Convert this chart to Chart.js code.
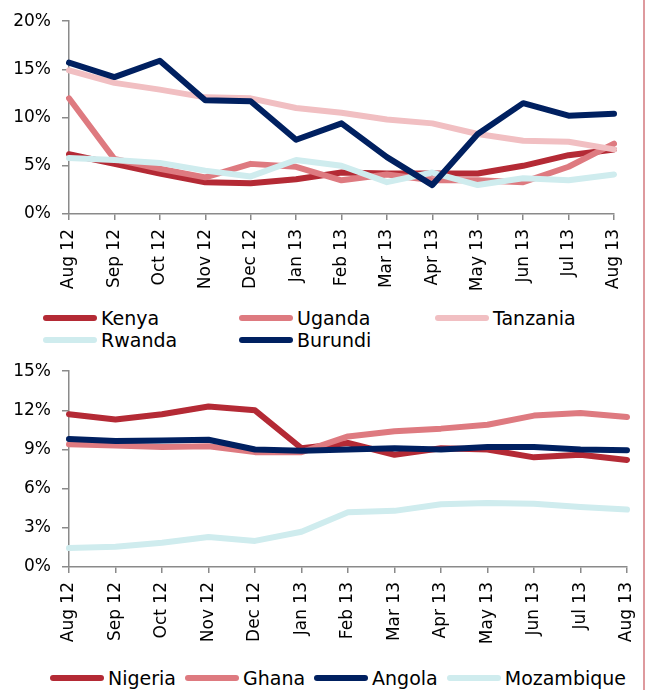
<!DOCTYPE html>
<html>
<head>
<meta charset="utf-8">
<script src="https://cdn.jsdelivr.net/npm/chart.js@4.4.0/dist/chart.umd.min.js"></script>
<style>
  body { margin: 0; width: 647px; height: 690px; background: #fff; position: relative; overflow: hidden; font-family: "DejaVu Sans", sans-serif; }
  canvas { position: absolute; left: 0; }
  #topChart { top: 0; }
  #bottomChart { top: 350px; }
  .legend { position: absolute; font-size: 19px; color: #000; }
  .legend .item { display: flex; align-items: center; height: 22px; white-space: nowrap; }
  .legend .swatch { width: 54px; height: 6px; border-radius: 3px; margin-right: 4px; }
  #topLegend { left: 43px; top: 307px; display: grid; grid-template-columns: 196px 196px 196px; }
  #bottomLegend { left: 50px; top: 667px; display: flex; gap: 9px; }
  #rule { position: absolute; left: 643px; top: 0; width: 2px; height: 690px; background: #de9a9e; }
</style>
</head>
<body>
<canvas id="topChart" width="640" height="300"></canvas>
<div id="topLegend" class="legend"></div>
<canvas id="bottomChart" width="640" height="300"></canvas>
<div id="bottomLegend" class="legend"></div>
<div id="rule"></div>

<script>
// Categories
const months = ['Aug 12', 'Sep 12', 'Oct 12', 'Nov 12', 'Dec 12', 'Jan 13', 'Feb 13',
                'Mar 13', 'Apr 13', 'May 13', 'Jun 13', 'Jul 13', 'Aug 13'];

// East Africa (%)
const kenya    = [6.2, 5.2, 4.2, 3.3, 3.2, 3.6, 4.3, 4.2, 4.2, 4.2, 5.0, 6.1, 6.7];
const uganda   = [12.0, 5.7, 4.7, 3.8, 5.2, 4.9, 3.5, 4.1, 3.5, 3.5, 3.3, 4.9, 7.3];
const tanzania = [14.9, 13.6, 12.9, 12.1, 12.0, 11.0, 10.5, 9.8, 9.4, 8.3, 7.6, 7.5, 6.7];
const rwanda   = [5.8, 5.6, 5.3, 4.5, 3.9, 5.6, 5.0, 3.3, 4.3, 3.0, 3.7, 3.5, 4.1];
const burundi  = [15.7, 14.2, 15.9, 11.8, 11.7, 7.7, 9.4, 5.9, 3.0, 8.3, 11.5, 10.2, 10.4];

// West / Southern Africa (%)
const nigeria    = [11.7, 11.3, 11.7, 12.3, 12.0, 9.1, 9.5, 8.6, 9.1, 9.0, 8.4, 8.6, 8.2];
const ghana      = [9.4, 9.3, 9.2, 9.25, 8.8, 8.8, 10.0, 10.4, 10.6, 10.9, 11.6, 11.8, 11.5];
const angola     = [9.8, 9.65, 9.7, 9.75, 9.0, 8.9, 9.0, 9.1, 9.0, 9.2, 9.2, 9.0, 8.95];
const mozambique = [1.45, 1.55, 1.85, 2.3, 2.0, 2.7, 4.2, 4.3, 4.8, 4.9, 4.85, 4.6, 4.4];

const topNames = ['Kenya', 'Uganda', 'Tanzania', 'Rwanda', 'Burundi'];
const bottomNames = ['Nigeria', 'Ghana', 'Angola', 'Mozambique'];

// Y ticks
const topTicks = [0, 5, 10, 15, 20];
const bottomTicks = [0, 3, 6, 9, 12, 15];

// Colours
const darkRed = '#b42a35';
const midPink = '#de7a80';
const lightPink = '#f1bfc2';
const paleCyan = '#cfecee';
const navy = '#002060';
const axisColor = '#8a8a8a';

const topColors = [darkRed, midPink, lightPink, paleCyan, navy];
const bottomColors = [darkRed, midPink, navy, paleCyan];

function buildDatasets(names, values, colors) {
    return names.map((name, i) => ({
        label: name,
        data: values[i],
        borderColor: colors[i],
        backgroundColor: colors[i],
        borderWidth: 6,
        pointRadius: 0,
        tension: 0,
        borderCapStyle: 'round',
        borderJoinStyle: 'round',
        order: names.length - i   // later series drawn on top
    }));
}

function makeChart(id, datasets, ticks, padTop, padRight, xHeight) {
    return new Chart(document.getElementById(id), {
        type: 'line',
        data: { labels: months, datasets },
        options: {
            responsive: false,
            animation: false,
            devicePixelRatio: 1,
            layout: { padding: { top: padTop, right: padRight, left: 0, bottom: 0 } },
            plugins: { legend: { display: false }, tooltip: { enabled: false } },
            scales: {
                x: {
                    grid: { display: true, drawOnChartArea: false, tickLength: 6, color: axisColor, lineWidth: 1.5 },
                    border: { display: true, color: axisColor, width: 1.5 },
                    ticks: {
                        minRotation: 90, maxRotation: 90, autoSkip: false, padding: 9,
                        color: '#000', font: { family: 'DejaVu Sans', size: 17 }
                    },
                    afterFit(axis) {
                        axis.height = xHeight;
                        // let layout padding alone decide the plot's right edge
                        axis.paddingLeft = 0;
                        axis.paddingRight = 0;
                    }
                },
                y: {
                    min: ticks[0],
                    max: ticks[ticks.length - 1],
                    afterBuildTicks(axis) { axis.ticks = ticks.map(v => ({ value: v })); },
                    grid: { display: true, drawOnChartArea: false, tickLength: 7, color: axisColor, lineWidth: 1.5 },
                    border: { display: true, color: axisColor, width: 1.5 },
                    ticks: {
                        padding: 11, color: '#000',
                        font: { family: 'DejaVu Sans', size: 17 },
                        callback: v => v + '%'
                    },
                    afterFit(axis) { axis.width = 69; }
                }
            }
        }
    });
}

function buildLegend(id, names, colors) {
    const el = document.getElementById(id);
    el.innerHTML = names.map((name, i) => `
        <div class="item"><span class="swatch" style="background:${colors[i]}"></span>${name}</div>
    `).join('');
}

makeChart('topChart',
    buildDatasets(topNames, [kenya, uganda, tanzania, rwanda, burundi], topColors),
    topTicks, 19, 26, 86);
makeChart('bottomChart',
    buildDatasets(bottomNames, [nigeria, ghana, angola, mozambique], bottomColors),
    bottomTicks, 20, 13, 83);

buildLegend('topLegend', topNames, topColors);
buildLegend('bottomLegend', bottomNames, bottomColors);
</script>
</body>
</html>
